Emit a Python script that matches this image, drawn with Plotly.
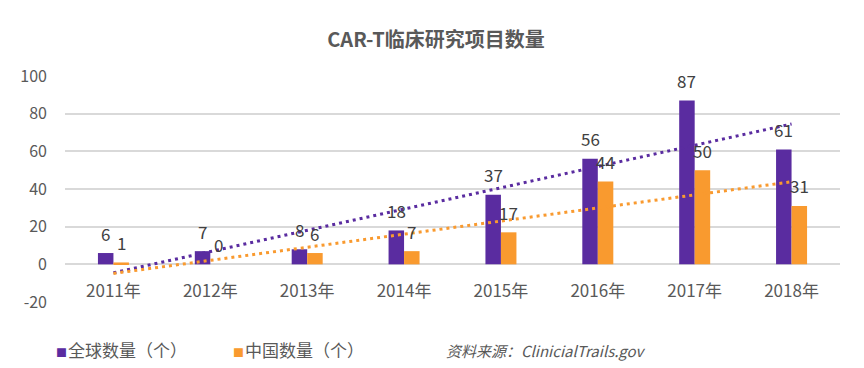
import numpy as np
import plotly.graph_objects as go

years = ["2011年", "2012年", "2013年", "2014年", "2015年", "2016年", "2017年", "2018年"]
global_counts = [6, 7, 8, 18, 37, 56, 87, 61]
china_counts = [1, 0, 6, 7, 17, 44, 50, 31]
series_names = ["全球数量（个）", "中国数量（个）"]
title_text = "CAR-T临床研究项目数量"
source_text = "资料来源：ClinicialTrails.gov"
y_ticks = [-20, 0, 20, 40, 60, 80, 100]
y_tick_labels = ["-20", "0", "20", "40", "60", "80", "100"]

PURPLE = "#5a2ca0"
ORANGE = "#f99a2f"
FONT = "Noto Sans CJK SC"
AXIS_GRAY = "#595959"
LABEL_GRAY = "#404040"

# figure geometry (page is offset by 8px body margin)
W, H = 856, 360
ML, MR, MT, MB = 57, 24, 68, 66
PW, PH = W - ML - MR, H - MT - MB


def px(page_x):
    return (page_x - 8 - ML) / PW


def py(page_y):
    return (H - MB - (page_y - 8)) / PH


idx = np.arange(len(years))
fit_g = np.polyval(np.polyfit(idx, global_counts, 1), idx)
fit_c = np.polyval(np.polyfit(idx, china_counts, 1), idx)

fig = go.Figure()
fig.add_trace(go.Bar(x=years, y=global_counts, name=series_names[0],
                     marker=dict(color=PURPLE, line=dict(width=0)), showlegend=False))
fig.add_trace(go.Bar(x=years, y=china_counts, name=series_names[1],
                     marker=dict(color=ORANGE, line=dict(width=0)), showlegend=False))
fig.add_trace(go.Scatter(x=years, y=fit_g, mode="lines", showlegend=False,
                         line=dict(color=PURPLE, width=3, dash="3px,4px"), hoverinfo="skip"))
fig.add_trace(go.Scatter(x=years, y=fit_c, mode="lines", showlegend=False,
                         line=dict(color=ORANGE, width=3, dash="3px,4px"), hoverinfo="skip"))

bargap = 0.68
half = (1 - bargap) / 4
annotations = []
for i, (g, c) in enumerate(zip(global_counts, china_counts)):
    for off, v in ((-half, g), (half, c)):
        annotations.append(dict(x=i + off, y=v, xref="x", yref="y", text=str(v),
                                showarrow=False, yanchor="middle", yshift=20,
                                font=dict(family=FONT, size=17, color=LABEL_GRAY)))

# legend-like labels and source
annotations.append(dict(xref="paper", yref="paper", x=px(53.5), y=py(349),
                        xanchor="left", yanchor="middle", showarrow=False,
                        text=f"<span style='color:{PURPLE};font-size:11px'>■</span>&#8202;{series_names[0]}",
                        font=dict(family=FONT, size=17, color=AXIS_GRAY)))
annotations.append(dict(xref="paper", yref="paper", x=px(230.5), y=py(349),
                        xanchor="left", yanchor="middle", showarrow=False,
                        text=f"<span style='color:{ORANGE};font-size:11px'>■</span>&#8202;{series_names[1]}",
                        font=dict(family=FONT, size=17, color=AXIS_GRAY)))
annotations.append(dict(xref="paper", yref="paper", x=px(444), y=py(350),
                        xanchor="left", yanchor="middle", showarrow=False,
                        text=f"<i>{source_text}</i>",
                        font=dict(family=FONT, size=15, color=AXIS_GRAY)))

fig.update_layout(
    width=W, height=H,
    margin=dict(l=ML, r=MR, t=MT, b=MB, autoexpand=False),
    paper_bgcolor="white", plot_bgcolor="white",
    barmode="group", bargap=bargap, bargroupgap=0,
    title=dict(text=f"<b>{title_text}</b>", x=0.5, xanchor="center",
               y=1 - 32/H, yanchor="middle", yref="container",
               font=dict(family=FONT, size=20, color=AXIS_GRAY)),
    font=dict(family=FONT, color=AXIS_GRAY),
    annotations=annotations,
    showlegend=False,
)
fig.update_yaxes(range=[-20, 100], tickvals=y_ticks, ticktext=y_tick_labels,
                 showgrid=True, gridcolor="#d9d9d9",
                 gridwidth=1.5, zeroline=True, zerolinecolor="#d9d9d9", zerolinewidth=1.5,
                 showline=False, ticks="", ticklabelstandoff=17,
                 tickfont=dict(family=FONT, size=16, color=AXIS_GRAY), domain=[0, 1])
fig.update_xaxes(type="category", anchor="free", position=20/120, showgrid=False,
                 showline=False, ticks="", ticklabelstandoff=15,
                 tickfont=dict(family=FONT, size=17, color=AXIS_GRAY))

fig.write_html("out.html")
